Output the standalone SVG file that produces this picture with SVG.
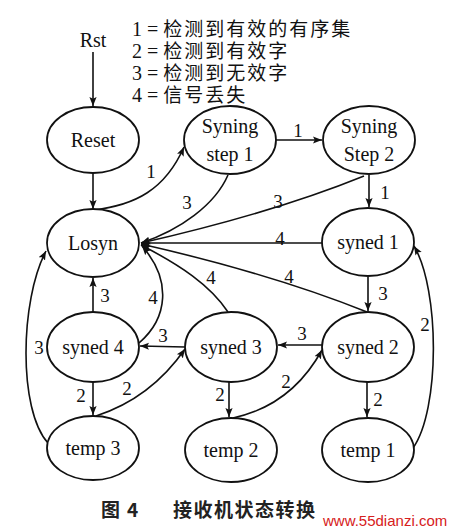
<svg xmlns="http://www.w3.org/2000/svg" width="458" height="531" viewBox="0 0 458 531">
<defs>
<marker id="ah" viewBox="0 0 10 10" refX="10" refY="5" markerWidth="9" markerHeight="9" markerUnits="userSpaceOnUse" orient="auto">
<path d="M0,1 L10,5 L0,9 L2,5 z" fill="#111"/>
</marker>
<style>
.n ellipse{fill:#fff;stroke:#111;stroke-width:1.8}
.t{font-family:"Liberation Serif","Times New Roman",serif;font-size:20px;fill:#111;text-anchor:middle}
.lg{font-family:"Liberation Serif","Noto Sans CJK SC",serif;font-size:20px;fill:#111}
.cj{font-size:19px;letter-spacing:2px}
.lb{font-family:"Liberation Serif",serif;font-size:19px;fill:#111;text-anchor:middle}
#edges path{fill:none;stroke:#111;stroke-width:1.6;marker-end:url(#ah)}
.cap{font-family:"Noto Sans CJK SC",sans-serif;font-size:19px;font-weight:bold;fill:#222}
.wm{font-family:"Liberation Sans",Arial,sans-serif;font-size:15px;fill:#d62020}
</style>
</defs>
<rect width="458" height="531" fill="#fff"/>
<text class="t" x="93" y="47">Rst</text>
<g id="legend">
<text class="lg" x="132" y="36">1 = <tspan class="cj">检测到有效的有序集</tspan></text>
<text class="lg" x="132" y="58">2 = <tspan class="cj">检测到有效字</tspan></text>
<text class="lg" x="132" y="80">3 = <tspan class="cj">检测到无效字</tspan></text>
<text class="lg" x="132" y="102">4 = <tspan class="cj">信号丢失</tspan></text>
</g>
<g id="edges">
<path d="M93,52 L93,106"/>
<path d="M93,173 L93,209"/>
<path d="M94,210 C135,205 165,190 184,147"/>
<path d="M276,140 L322,140"/>
<path d="M228,175 C215,205 180,230 141,243"/>
<path d="M364,176 C300,202 220,225 141,243"/>
<path d="M369,175 L369,207"/>
<path d="M322,243 L141,243"/>
<path d="M367,312 C300,285 220,262 141,244"/>
<path d="M368,277 L368,311"/>
<path d="M228,312 C210,285 180,265 141,245"/>
<path d="M139,343 C168,318 172,280 142,246"/>
<path d="M93,312 L93,278"/>
<path d="M185,347 L140,346"/>
<path d="M322,345 L278,345"/>
<path d="M48,443 C18,410 20,300 46,251"/>
<path d="M93,382 L93,415"/>
<path d="M96,416 C130,405 160,385 185,349"/>
<path d="M229,382 L229,417"/>
<path d="M233,418 C270,410 300,390 322,350"/>
<path d="M367,382 L367,417"/>
<path d="M413,448 C440,410 440,290 414,246"/>
</g>
<g id="labels">
<text class="lb" x="151" y="178">1</text>
<text class="lb" x="298" y="137">1</text>
<text class="lb" x="187" y="209">3</text>
<text class="lb" x="278" y="208">3</text>
<text class="lb" x="385" y="199">1</text>
<text class="lb" x="280" y="245">4</text>
<text class="lb" x="289" y="283">4</text>
<text class="lb" x="383" y="300">3</text>
<text class="lb" x="211" y="284">4</text>
<text class="lb" x="153" y="304">4</text>
<text class="lb" x="105" y="302">3</text>
<text class="lb" x="163" y="342">3</text>
<text class="lb" x="302" y="340">3</text>
<text class="lb" x="39" y="354">3</text>
<text class="lb" x="425" y="331">2</text>
<text class="lb" x="81" y="402">2</text>
<text class="lb" x="127" y="395">2</text>
<text class="lb" x="220" y="401">2</text>
<text class="lb" x="286" y="388">2</text>
<text class="lb" x="378" y="406">2</text>
</g>
<g id="reset" class="n"><ellipse cx="93" cy="140" rx="46" ry="33"/><text class="t" x="93" y="147">Reset</text></g>
<g id="syning1" class="n"><ellipse cx="230" cy="140" rx="46" ry="34"/><text class="t" x="230" y="133">Syning</text><text class="t" x="230" y="161">step 1</text></g>
<g id="syning2" class="n"><ellipse cx="369" cy="140" rx="46" ry="34"/><text class="t" x="369" y="133">Syning</text><text class="t" x="369" y="161">Step 2</text></g>
<g id="losyn" class="n"><ellipse cx="93" cy="243" rx="46" ry="34"/><text class="t" x="93" y="250">Losyn</text></g>
<g id="syned1" class="n"><ellipse cx="368" cy="242" rx="46" ry="34"/><text class="t" x="368" y="249">syned 1</text></g>
<g id="syned4" class="n"><ellipse cx="93" cy="347" rx="46" ry="35"/><text class="t" x="93" y="354">syned 4</text></g>
<g id="syned3" class="n"><ellipse cx="231" cy="347" rx="46" ry="35"/><text class="t" x="231" y="354">syned 3</text></g>
<g id="syned2" class="n"><ellipse cx="368" cy="347" rx="46" ry="35"/><text class="t" x="368" y="354">syned 2</text></g>
<g id="temp3" class="n"><ellipse cx="93" cy="448" rx="46" ry="32"/><text class="t" x="93" y="455">temp 3</text></g>
<g id="temp2" class="n"><ellipse cx="231" cy="450" rx="46" ry="32"/><text class="t" x="231" y="457">temp 2</text></g>
<g id="temp1" class="n"><ellipse cx="368" cy="450" rx="46" ry="32"/><text class="t" x="368" y="457">temp 1</text></g>
<text class="cap" x="101" y="517">图</text>
<text class="cap" x="127" y="517">4</text>
<text class="cap" x="173" y="517" letter-spacing="1.5">接收机状态转换</text>
<text class="wm" x="323" y="526">www.55dianzi.com</text>
</svg>
